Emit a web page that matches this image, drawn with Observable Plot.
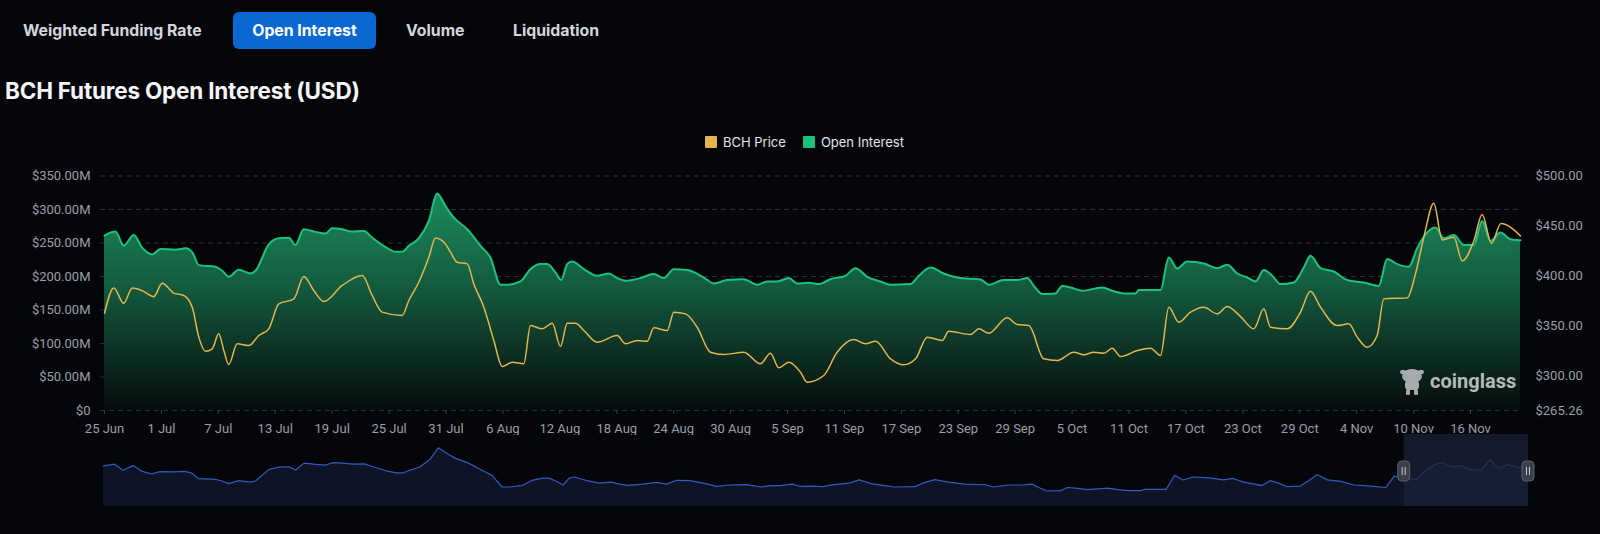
<!DOCTYPE html>
<html><head><meta charset="utf-8">
<script src="https://cdn.jsdelivr.net/npm/d3@7"></script>
<script src="https://cdn.jsdelivr.net/npm/@observablehq/plot@0.6"></script>
<style>
body{margin:0;background:#05060a;width:1600px;height:534px;overflow:hidden;font-family:Roboto,"Noto Sans",sans-serif;position:relative}
.tab{position:absolute;top:12px;height:37px;line-height:37px;font-family:Inter,Roboto,sans-serif;font-size:15.8px;font-weight:700;color:#d4d6dc;white-space:nowrap}
.tab.active{background:#0b67d2;color:#fff;border-radius:6px;text-align:center}
#title{position:absolute;left:5px;top:77px;line-height:28px;font-family:Inter,Roboto,sans-serif;font-size:22.5px;font-weight:700;color:#f4f5f7;letter-spacing:-0.2px}
#legend{position:absolute;left:705px;top:134px;display:flex;align-items:center;font-family:Inter,Roboto,sans-serif;font-size:13px;color:#e4e5e8}
#legend .sw{width:12px;height:12px;border-radius:1px;margin-right:6px}
#legend .it{display:flex;align-items:center;margin-right:17px}
#main{position:absolute;left:0;top:160px}
#nav{position:absolute;left:0;top:434px}
#wm{position:absolute;left:1398px;top:366px;display:flex;align-items:center;color:#c9cacd;font-weight:700;font-size:20px;opacity:0.9}
</style></head>
<body>
<div class="tab" style="left:23px">Weighted Funding Rate</div>
<div class="tab active" style="left:233px;width:143px">Open Interest</div>
<div class="tab" style="left:406px">Volume</div>
<div class="tab" style="left:513px">Liquidation</div>
<div id="title">BCH Futures Open Interest (USD)</div>
<div id="legend"></div>
<div id="main"></div>
<div id="nav"></div>
<div id="wm"><svg width="28" height="30" viewBox="0 0 28 30"><g fill="#b9babd"><ellipse cx="14" cy="10" rx="10" ry="7"/><rect x="2" y="4" width="6" height="4" rx="2"/><rect x="20" y="4" width="6" height="4" rx="2"/><rect x="7" y="14" width="14" height="10" rx="4"/><rect x="8" y="23" width="4" height="6" rx="1.5"/><rect x="16" y="23" width="4" height="6" rx="1.5"/></g></svg><span style="margin-left:4px">coinglass</span></div>
<script>
// ---- data ----
const startDate = "2024-06-25";
const endDate = "2024-11-21T06:30Z";
const seriesNames = ["BCH Price", "Open Interest"];
const seriesColors = ["#e3b54d", "#1bc27c"];
// Open interest (USD millions), by day offset from 25 Jun
const oiDay = [0,1.16,2.03,3.09,3.97,5.03,5.9,7.48,8.54,9.25,9.94,11.7,12.41,13.1,14.16,15.39,15.92,17.32,18.37,19.43,20.13,21.01,22.24,23.3,24.0,25.06,26.11,27.34,28.22,29.62,30.68,31.38,32.08,33.13,34.19,35.07,35.95,36.82,38.24,39.64,40.69,41.75,42.45,43.85,44.91,45.96,46.67,47.54,48.14,48.78,49.3,50.53,51.94,53.16,54.05,54.92,56.5,57.91,58.96,60.02,61.43,63.18,64.23,65.64,67.39,68.81,69.86,70.91,72.14,73.02,74.25,75.3,76.53,78.11,79.17,80.4,81.8,82.86,84.97,85.84,87.08,88.48,90.24,92.35,93.22,94.8,96.21,97.27,97.97,98.85,100.25,100.96,101.83,103.07,105.18,106.23,107.45,108.69,109.04,111.32,112.2,113.08,114.14,115.89,117.3,118.35,119.41,120.46,121.34,122.21,123.1,123.97,125.37,126.43,127.13,128.19,129.59,131.0,132.75,134.33,135.22,136.27,137.5,138.38,139.44,140.31,141.19,142.24,143.3,144.35,145.23,146.1,147.16,148.21,149.27];
const oiVal = [261,267,246,262,243,233,241,240,242,236,217,214.5,208.5,199.6,210,204.5,208.5,248,257,258,247,270.6,266.6,264,272,270.6,267,268,258,244,237,237,245.8,257,283,324,305,288,270.6,245.8,228,187.7,187.7,192.6,211,218.5,218.5,206,194.6,218.5,222.4,211,201,204.5,197.6,193.6,197.6,203.6,197.6,211,209.6,198.5,189.6,194.6,196,187.7,192.6,192.6,197.6,189.6,190.6,188.7,196,201,212.5,199.6,192.6,187.7,188.7,201,213.4,204.5,197.6,195.6,187.7,194.6,194.6,197.6,186,173.8,174.8,186,183.7,178.7,183.7,178.7,174.8,174.8,179.8,179.8,228.3,212,222.4,219.4,212.5,217.4,204.5,198.5,192.6,209.6,201,188.7,191,213.4,230.9,212.5,207.5,194.6,191,186,226,218.5,214.5,242.3,265.6,273,257,262,247,247,283,253,265.6,255.7,254];
// BCH price (USD), by day offset from 25 Jun
const priceDay = [0,0.98,2.03,2.92,3.97,5.2,6.08,7.31,8.36,9.25,9.94,10.65,11.35,12.05,12.58,13.1,13.99,15.21,16.27,17.32,18.37,19.96,21.01,22.06,23.12,25.06,27.17,28.22,29.27,31.38,32.08,33.13,34.19,34.89,35.95,36.47,37.18,38.24,38.93,39.99,41.04,41.93,42.98,44.2,44.91,46.14,47.2,48.07,48.78,49.66,50.53,51.94,54.05,54.92,56.16,57.21,57.91,59.32,60.02,61.25,62.48,63.88,65.29,67.39,69.15,70.2,71.08,72.14,73.37,74.07,75.82,77.23,78.99,80.22,81.28,82.86,84.26,85.5,86.73,88.31,89.0,91.29,92.17,93.22,95.16,96.21,97.44,99.02,100.43,102.18,103.24,104.29,105.35,106.23,107.11,108.87,110.27,111.32,112.2,113.25,114.48,115.89,117.3,118.35,119.76,121.16,122.21,122.92,124.68,126.08,127.13,128.19,129.95,131.17,132.06,133.11,134.16,134.86,137.33,138.2,139.08,140.13,141.02,142.24,143.13,144.35,145.23,146.21,147.21,149.27];
const priceVal = [362.6,388,372.6,388,385.3,379.3,392.7,382.7,380.4,368.7,338.7,324.6,327,342,325.3,311.3,332,330.3,340.3,347,372,377,399.4,385.3,374.4,390.4,400.4,380.4,363.7,360.4,375.4,393.7,418.7,438,432,423.7,413.7,412,392,368.7,335.3,309.3,313.6,312,350.3,347,352.6,329.3,352.6,352.6,345.3,333.6,340.3,332,335.3,334.6,348,345.3,363.7,362,348.6,323.6,321.3,323.6,312,322.6,308,313.6,303.6,293.6,300.3,323.6,336.3,332,334.6,317,311,317,338.7,335.3,344.6,341.3,347,342.6,358,351.3,350.3,317,315.3,323.6,321,323.6,322.6,327.6,319.3,325.3,327.6,320.3,368.7,353.6,363.7,368.7,362,369.4,359.3,347,367,348.6,347,363.7,384.6,368.7,350.3,352,338.7,328.6,340.3,377,378,402,438.7,472.7,436,438.7,415,435,461.5,432.5,452.5,440];
const leftTicks = [0,50,100,150,200,250,300,350];
const rightTicks = [265.26,300,350,400,450,500];
const xTicks = ["2024-06-25","2024-07-01","2024-07-07","2024-07-13","2024-07-19","2024-07-25","2024-07-31","2024-08-06","2024-08-12","2024-08-18","2024-08-24","2024-08-30","2024-09-05","2024-09-11","2024-09-17","2024-09-23","2024-09-29","2024-10-05","2024-10-11","2024-10-17","2024-10-23","2024-10-29","2024-11-04","2024-11-10","2024-11-16"];
const navSelStart = "2024-11-08T06:00Z";

// ---- build ----
const t0 = new Date(startDate + "T00:00Z").getTime();
const toDate = d => new Date(t0 + d * 864e5);
const oi = oiDay.map((d, i) => ({date: toDate(d), v: oiVal[i]}));
const pr = priceDay.map((d, i) => ({date: toDate(d), p: priceVal[i]}));
const pMin = rightTicks[0], pMax = rightTicks[rightTicks.length - 1], yMax = leftTicks[leftTicks.length - 1];
const p2y = p => (p - pMin) / (pMax - pMin) * yMax;
const y2p = y => pMin + y / yMax * (pMax - pMin);
const xDomain = [new Date(startDate + "T00:00Z"), new Date(endDate)];

const legend = document.getElementById("legend");
seriesNames.forEach((n, i) => {
  const it = document.createElement("div"); it.className = "it";
  it.innerHTML = `<div class="sw" style="background:${seriesColors[i]}"></div><span>${n}</span>`;
  legend.appendChild(it);
});

const gradDefs = () => {
  const defs = d3.create("svg:defs");
  const g = defs.append("linearGradient").attr("id", "oiGrad").attr("gradientUnits", "userSpaceOnUse")
    .attr("x1", 0).attr("x2", 0).attr("y1", 25).attr("y2", 250);
  g.append("stop").attr("offset", "0%").attr("stop-color", "#1d8f5f");
  g.append("stop").attr("offset", "45%").attr("stop-color", "#135b3f");
  g.append("stop").attr("offset", "100%").attr("stop-color", "#070b0b");
  return defs.node();
};

const main = Plot.plot({
  width: 1600, height: 275,
  marginTop: 15.5, marginBottom: 25, marginLeft: 104, marginRight: 80,
  style: {background: "transparent", color: "#9b9ea7", fontFamily: "Roboto, sans-serif", fontSize: "13px"},
  x: {type: "utc", domain: xDomain},
  y: {domain: [0, yMax]},
  marks: [
    gradDefs,
    Plot.ruleY(leftTicks, {stroke: "#2c2f37", strokeDasharray: "5,4", insetLeft: -4, insetRight: -2}),
    Plot.areaY(oi, {x: "date", y: "v", curve: "monotone-x", fill: "url(#oiGrad)"}),
    Plot.lineY(oi, {x: "date", y: "v", curve: "monotone-x", stroke: seriesColors[1], strokeWidth: 2}),
    Plot.lineY(pr, {x: "date", y: d => p2y(d.p), curve: "monotone-x", stroke: seriesColors[0], strokeWidth: 1.5}),
    Plot.axisY({anchor: "left", ticks: leftTicks, tickFormat: d => d === 0 ? "$0" : `$${d.toFixed(2)}M`, tickSize: 0, tickPadding: 14, label: null}),
    Plot.axisY({anchor: "right", ticks: rightTicks.map(p2y), tickFormat: d => "$" + y2p(d).toFixed(2), tickSize: 0, tickPadding: 15, label: null}),
    Plot.axisX({ticks: xTicks.map(s => new Date(s + "T00:00Z")), tickFormat: d3.utcFormat("%-d %b"), tickSize: 4, tickPadding: 9, stroke: "#3a3d46", label: null})
  ]
});
document.getElementById("main").appendChild(main);

const navSel = (index, scales, values, dims) => {
  const g = d3.create("svg:g");
  const xa = scales.x(new Date(navSelStart)), xb = scales.x(xDomain[1]);
  g.append("rect").attr("x", xa).attr("y", 0).attr("width", xb - xa).attr("height", dims.height)
    .attr("fill", "#1a2238").attr("fill-opacity", 0.75);
  for (const hx of [xa, xb]) {
    g.append("rect").attr("x", hx - 6).attr("y", 27).attr("width", 12).attr("height", 20).attr("rx", 4)
      .attr("fill", "#3b3f4a").attr("stroke", "#5b606c");
    g.append("line").attr("x1", hx - 1.5).attr("x2", hx - 1.5).attr("y1", 33).attr("y2", 41).attr("stroke", "#c9ccd3");
    g.append("line").attr("x1", hx + 1.5).attr("x2", hx + 1.5).attr("y1", 33).attr("y2", 41).attr("stroke", "#c9ccd3");
  }
  return g.node();
};

const nav = Plot.plot({
  width: 1600, height: 72,
  marginTop: 0, marginBottom: 0, marginLeft: 103, marginRight: 72,
  style: {background: "transparent"},
  x: {type: "utc", domain: xDomain, axis: null},
  y: {domain: [120, 370], axis: null},
  marks: [
    Plot.areaY(oi, {x: "date", y1: 120, y2: "v", fill: "#0e1426"}),
    Plot.lineY(oi, {x: "date", y: "v", stroke: "#3159bf", strokeWidth: 1.2}),
    navSel
  ]
});
document.getElementById("nav").appendChild(nav);
</script>
</body></html>
